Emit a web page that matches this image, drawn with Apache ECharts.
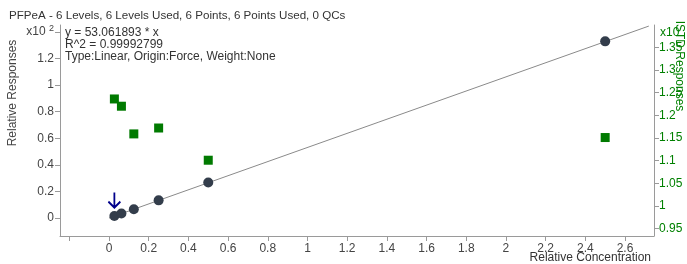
<!DOCTYPE html>
<html>
<head>
<meta charset="utf-8">
<script src="https://cdn.jsdelivr.net/npm/echarts@6/dist/echarts.min.js"></script>
<style>
  html, body { margin: 0; padding: 0; background: #fff; }
  #main { width: 687px; height: 264px; }
</style>
</head>
<body>
<div id="main"></div>
<script>
// calibration levels (relative concentration)
const concentrations = [0.027, 0.0625, 0.125, 0.25, 0.5, 2.5]
// relative responses, x10^2
const responses = [0.015, 0.034, 0.066, 0.133, 0.267, 1.328]
// ISTD responses (right axis)
const istdResponses = [1.236, 1.220, 1.159, 1.172, 1.101, 1.151]
// fitted line y = 53.061893 * x, drawn between two ends
const fitX = [0, 2.72]
const fitY = [0, 1.443]

const xTicks = [-0.2, 0, 0.2, 0.4, 0.6, 0.8, 1, 1.2, 1.4, 1.6, 1.8, 2, 2.2, 2.4, 2.6]
const yTicks = [0, 0.2, 0.4, 0.6, 0.8, 1, 1.2, 1.4]
const istdTicks = [0.95, 1, 1.05, 1.1, 1.15, 1.2, 1.25, 1.3, 1.35]

const font = 'Arial, "Liberation Sans", sans-serif'
const green = '#008000'
const axisGray = '#9a9a9a'
const labelGray = '#444'

const chart = echarts.init(document.getElementById('main'))

const option = {
  animation: false,
  textStyle: { fontFamily: font },
  title: {
    text: 'PFPeA - 6 Levels, 6 Levels Used, 6 Points, 6 Points Used, 0 QCs',
    left: 9,
    top: 10,
    padding: 0,
    textStyle: { fontSize: 11.6, fontWeight: 'normal', color: '#333', fontFamily: font },
  },
  grid: { left: 60, right: 33, top: 25, bottom: 28 },
  xAxis: {
    type: 'value',
    min: -0.247,
    max: 2.746,
    splitLine: { show: false },
    axisLine: { show: true, onZero: false, lineStyle: { color: axisGray } },
    axisTick: { show: true, length: 5, customValues: xTicks, lineStyle: { color: axisGray } },
    axisLabel: {
      customValues: xTicks.filter((v) => v >= 0),
      color: labelGray,
      fontSize: 12,
      margin: 7,
      fontFamily: font,
    },
  },
  yAxis: [
    {
      type: 'value',
      min: -0.135,
      max: 1.451,
      splitLine: { show: false },
      axisLine: { show: true, onZero: false, lineStyle: { color: axisGray } },
      axisTick: { show: true, length: 5, customValues: yTicks, lineStyle: { color: axisGray } },
      axisLabel: {
        customValues: yTicks,
        color: labelGray,
        fontSize: 12,
        margin: 6,
        fontFamily: font,
        formatter: (v) => (v > 1.3 ? '{a|x10 }{s|2}' : String(v)),
        rich: {
          a: { fontSize: 12, color: labelGray, fontFamily: font },
          s: { fontSize: 9, color: labelGray, fontFamily: font, verticalAlign: 'top', padding: [0, 0, 6, 0] },
        },
      },
    },
    {
      type: 'value',
      position: 'right',
      min: 0.934,
      max: 1.399,
      splitLine: { show: false },
      axisLine: { show: true, onZero: false, lineStyle: { color: axisGray } },
      axisTick: { show: true, length: 5, customValues: istdTicks, lineStyle: { color: axisGray } },
      axisLabel: {
        customValues: istdTicks,
        color: green,
        fontSize: 12,
        margin: 5,
        fontFamily: font,
      },
    },
  ],
  graphic: [
    { type: 'text', left: 65, top: 27, style: { text: 'y = 53.061893 * x', font: '12px ' + font, fill: '#333' } },
    { type: 'text', left: 65, top: 39, style: { text: 'R^2 = 0.99992799', font: '12px ' + font, fill: '#333' } },
    { type: 'text', left: 65, top: 51, style: { text: 'Type:Linear, Origin:Force, Weight:None', font: '12px ' + font, fill: '#333' } },
    {
      type: 'text', x: 13, y: 93, rotation: Math.PI / 2,
      style: { text: 'Relative Responses', font: '12px ' + font, fill: '#444', align: 'center', verticalAlign: 'middle' },
    },
    {
      type: 'text', x: 679, y: 66, rotation: -Math.PI / 2,
      style: { text: 'ISTD Responses', font: '12px ' + font, fill: green, align: 'center', verticalAlign: 'middle' },
    },
    { type: 'text', x: 660, y: 33, style: { text: 'x10', font: '12px ' + font, fill: green, verticalAlign: 'middle' } },
    {
      type: 'text', x: 651, y: 258,
      style: { text: 'Relative Concentration', font: '12px ' + font, fill: '#333', align: 'right', verticalAlign: 'middle' },
    },
  ],
  series: [
    {
      type: 'line',
      data: fitX.map((x, i) => [x, fitY[i]]),
      symbol: 'none',
      lineStyle: { color: '#8a8a8a', width: 1 },
      z: 1,
    },
    {
      type: 'scatter',
      yAxisIndex: 1,
      data: concentrations.map((x, i) => [x, istdResponses[i]]),
      symbol: 'rect',
      symbolSize: 9,
      itemStyle: { color: '#007a00', opacity: 1 },
      z: 2,
    },
    {
      type: 'scatter',
      data: concentrations.map((x, i) => [x, responses[i]]),
      symbol: 'circle',
      symbolSize: 10,
      itemStyle: { color: '#333d4b', opacity: 1 },
      z: 3,
    },
    {
      // marker arrow over the lowest level
      type: 'scatter',
      data: [[concentrations[0], responses[0]]],
      symbol: 'path://M6,0 L6,15 M0,9 L6,15 L12,9',
      symbolSize: [12, 15],
      symbolOffset: [0, -16],
      itemStyle: { color: 'none', borderColor: '#00008b', borderWidth: 2, opacity: 1 },
      z: 4,
    },
  ],
}

chart.setOption(option)
</script>
</body>
</html>
